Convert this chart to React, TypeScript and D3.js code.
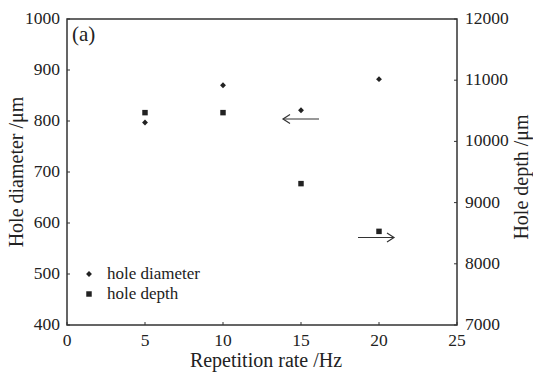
import React from "react";
import * as d3 from "d3";

const rates = [5, 10, 15, 20];
const diameter = [797, 870, 821, 882];
const depth = [10470, 10470, 9310, 8530];
const xTicks = [0, 5, 10, 15, 20, 25];
const yLeftTicks = [400, 500, 600, 700, 800, 900, 1000];
const yRightTicks = [7000, 8000, 9000, 10000, 11000, 12000];

const W = 533, H = 375;
const M = { left: 67, right: 457, top: 19, bottom: 325 };
const FONT = "'Liberation Serif', 'Times New Roman', serif";
const C = "#222";

export default function App() {
  const x = d3.scaleLinear().domain([0, 25]).range([M.left, M.right]);
  const yL = d3.scaleLinear().domain([400, 1000]).range([M.bottom, M.top]);
  const yR = d3.scaleLinear().domain([7000, 12000]).range([M.bottom, M.top]);
  const diamond = d3.symbol().type(d3.symbolDiamond2).size(22)();
  const square = d3.symbol().type(d3.symbolSquare).size(30)();

  return (
    <svg width={W} height={H} style={{ position: "absolute", left: 0, top: 0, background: "#fff" }} fontFamily={FONT}>
      <rect x={M.left} y={M.top} width={M.right - M.left} height={M.bottom - M.top} fill="none" stroke="#333" strokeWidth={1.5} />
      {xTicks.map((t) => (
        <g key={"x" + t}>
          <line x1={x(t)} x2={x(t)} y1={M.bottom} y2={M.bottom - 3} stroke="#333" />
          <text x={x(t)} y={346} textAnchor="middle" fontSize={17.5} fill={C}>{t}</text>
        </g>
      ))}
      {yLeftTicks.map((t) => (
        <g key={"l" + t}>
          <line x1={M.left} x2={M.left + 3} y1={yL(t)} y2={yL(t)} stroke="#333" />
          <text x={60} y={yL(t) + 5} textAnchor="end" fontSize={17.5} fill={C}>{t}</text>
        </g>
      ))}
      {yRightTicks.map((t) => (
        <g key={"r" + t}>
          <line x1={M.right} x2={M.right - 3} y1={yR(t)} y2={yR(t)} stroke="#333" />
          <text x={465} y={yR(t) + 5} textAnchor="start" fontSize={17.5} fill={C}>{t}</text>
        </g>
      ))}
      <text x={266} y={367} textAnchor="middle" fontSize={20} fill={C}>Repetition rate /Hz</text>
      <text transform={`translate(23,172) rotate(-90)`} textAnchor="middle" fontSize={20} fill={C}>Hole diameter /μm</text>
      <text transform={`translate(528,177) rotate(-90)`} textAnchor="middle" fontSize={20} fill={C}>Hole depth /μm</text>
      <text x={72} y={41} fontSize={21} fill={C}>(a)</text>
      {rates.map((r, i) => (
        <path key={"d" + r} d={diamond} transform={`translate(${x(r)},${yL(diameter[i])})`} fill={C} />
      ))}
      {rates.map((r, i) => (
        <path key={"s" + r} d={square} transform={`translate(${x(r)},${yR(depth[i])})`} fill={C} />
      ))}
      <g stroke="#333" strokeWidth={1.2} fill="none">
        <line x1={319} x2={283} y1={119} y2={119} />
        <path d="M290,114.5 L283,119 L290,123.5" />
        <line x1={358} x2={394} y1={237.5} y2={237.5} />
        <path d="M387,233 L394,237.5 L387,242" />
      </g>
      <path d={diamond} transform="translate(89,274)" fill={C} />
      <text x={107} y={279} fontSize={17} fill={C}>hole diameter</text>
      <path d={square} transform="translate(89,294)" fill={C} />
      <text x={107} y={299} fontSize={17} fill={C}>hole depth</text>
    </svg>
  );
}
